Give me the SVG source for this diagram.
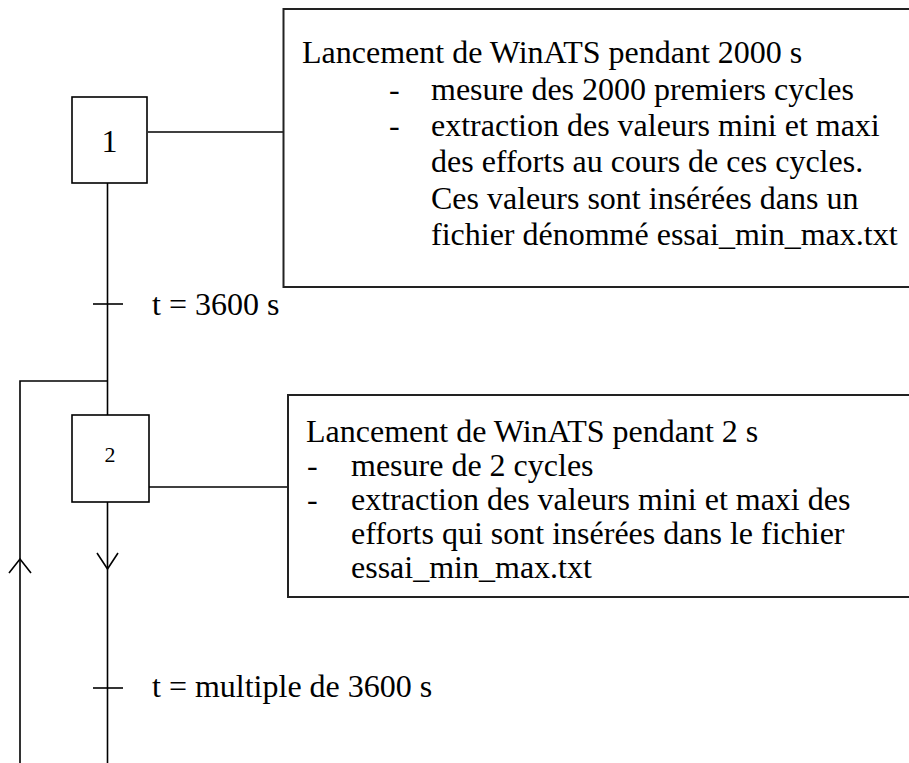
<svg xmlns="http://www.w3.org/2000/svg" width="909" height="763" viewBox="0 0 909 763">
<style>
.txt{font-family:"Liberation Serif","Times New Roman",serif;font-size:32px;fill:#000}
.step{fill:#fff;stroke:#000;stroke-width:1.6}
.box{fill:#fff;stroke:#222;stroke-width:2}
.ln{fill:none;stroke:#000;stroke-width:1.6}
</style>
<rect width="909" height="763" fill="#fff"/>
<g id="connectors">
<line class="ln" x1="107.5" y1="183" x2="107.5" y2="415"/>
<line class="ln" x1="107.5" y1="502" x2="107.5" y2="763"/>
<polyline class="ln" points="107.5,381 20,381 20,763"/>
<line class="ln" x1="148" y1="132" x2="284" y2="132"/>
<line class="ln" x1="149" y1="487" x2="288" y2="487"/>
<line class="ln" x1="93" y1="304" x2="123" y2="304"/>
<line class="ln" x1="93" y1="688" x2="123" y2="688"/>
<polyline class="ln" points="9,573 20,559 31,573"/>
<polyline class="ln" points="97,553 107.5,569 118,553"/>
</g>
<g id="step1">
<rect class="step" x="72" y="97" width="75" height="86"/>
<text class="txt" x="109.5" y="152" text-anchor="middle">1</text>
</g>
<g id="step2">
<rect class="step" x="72" y="415" width="77" height="87"/>
<text class="txt" x="110" y="462" text-anchor="middle" style="font-size:22px">2</text>
</g>
<g id="action1">
<rect class="box" x="283.5" y="9" width="640" height="278"/>
<text class="txt" x="302" y="63">Lancement de WinATS pendant 2000 s</text>
<text class="txt" x="389" y="99.5">-</text>
<text class="txt" x="431" y="99.5">mesure des 2000 premiers cycles</text>
<text class="txt" x="389" y="136">-</text>
<text class="txt" x="431" y="136">extraction des valeurs mini et maxi</text>
<text class="txt" x="431" y="172">des efforts au cours de ces cycles.</text>
<text class="txt" x="431" y="208.5">Ces valeurs sont insérées dans un</text>
<text class="txt" x="431" y="245">fichier dénommé essai_min_max.txt</text>
</g>
<g id="action2">
<rect class="box" x="288" y="395" width="640" height="202"/>
<text class="txt" x="306" y="442">Lancement de WinATS pendant 2 s</text>
<text class="txt" x="307" y="476">-</text>
<text class="txt" x="351" y="476">mesure de 2 cycles</text>
<text class="txt" x="307" y="510">-</text>
<text class="txt" x="351" y="510">extraction des valeurs mini et maxi des</text>
<text class="txt" x="351" y="544">efforts qui sont insérées dans le fichier</text>
<text class="txt" x="351" y="578">essai_min_max.txt</text>
</g>
<g id="transition1">
<text class="txt" x="152" y="315">t = 3600 s</text>
</g>
<g id="transition2">
<text class="txt" x="152" y="697">t = multiple de 3600 s</text>
</g>
</svg>
